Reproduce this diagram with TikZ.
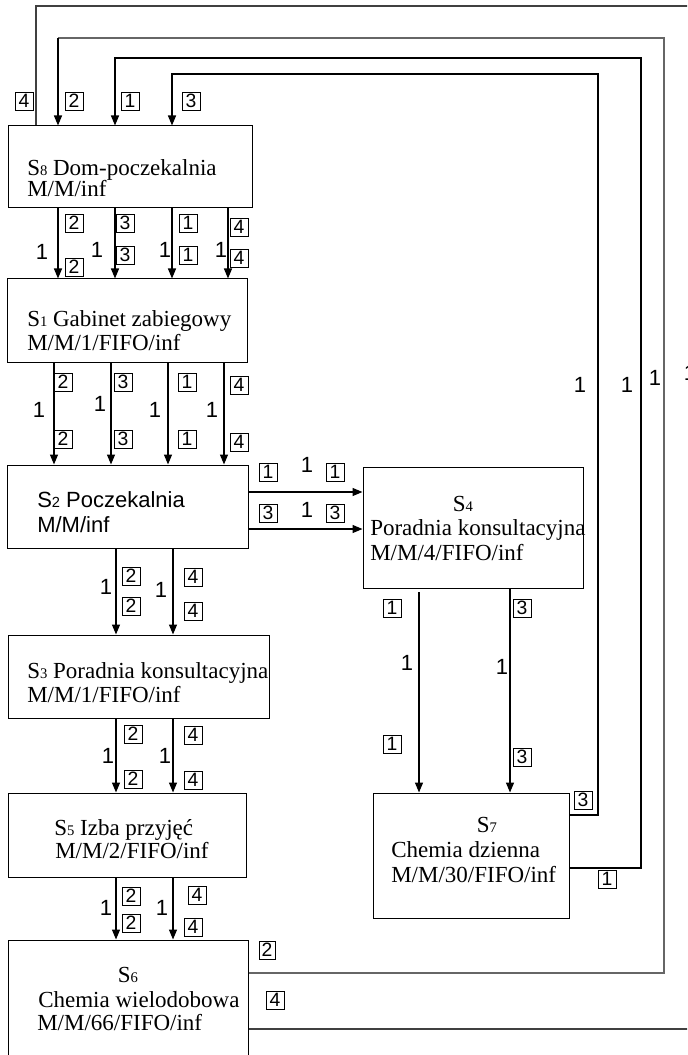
\documentclass[tikz,border=0pt]{standalone}
\usepackage{fontspec}
\setmainfont{Liberation Serif}
\newfontfamily\arialf{Liberation Sans}
\usetikzlibrary{arrows.meta,fit}
\newcommand\subd[1]{{\fontsize{11}{11}\selectfont #1}}
\begin{document}
\begin{tikzpicture}[x=0.75pt,y=-0.75pt,
  box/.style={draw, line width=0.75pt, inner sep=0pt},
  txt/.style={anchor=base west, inner sep=0pt, font=\fontsize{17.25}{17.25}\selectfont},
  stxt/.style={anchor=base west, inner sep=0pt, font=\arialf\fontsize{16.5}{16.5}\selectfont},
  tag/.style={draw, line width=0.6pt, inner sep=0pt, minimum width=13.5pt, minimum height=13.5pt, font=\arialf\fontsize{14.5}{14.5}\selectfont},
  one/.style={inner sep=0pt, font=\arialf\fontsize{16.5}{16.5}\selectfont},
  ln/.style={line width=1pt},
  arr/.style={line width=1pt, -{Triangle[length=7.5pt,width=6pt]}}
]
\useasboundingbox (0,0) rectangle (687,1055);
\clip (0,0) rectangle (687,1055);

% boxes
\node[box, fit={(8,126) (252,208)}] (S8) {};
\node[box, fit={(7,279) (247,362)}] (S1) {};
\node[box, fit={(7,465) (248,548)}] (S2) {};
\node[box, fit={(8,635) (269,718)}] (S3) {};
\node[box, fit={(8,793) (246,877)}] (S5) {};
\node[box, fit={(8,940) (248,1075)}] (S6) {};
\node[box, fit={(363,467) (583,588)}] (S4) {};
\node[box, fit={(373,793) (569,918)}] (S7) {};

% box texts
\node[txt] (t8a) at (27,176) {S\subd{8} Dom-poczekalnia};
\node[txt] (t8b) at (27,197) {M/M/inf};
\node[txt] (t1a) at (27,326) {S\subd{1} Gabinet zabiegowy};
\node[txt] (t1b) at (27,350) {M/M/1/FIFO/inf};
\node[stxt] (t2a) at (37,507) {S\subd{2} Poczekalnia};
\node[stxt] (t2b) at (37,532) {M/M/inf};
\node[txt] (t3a) at (27,678) {S\subd{3} Poradnia konsultacyjna};
\node[txt] (t3b) at (27,702) {M/M/1/FIFO/inf};
\node[txt, anchor=base] (t4a) at (463,511) {S\subd{4}};
\node[txt] (t4b) at (370,535) {Poradnia konsultacyjna};
\node[txt] (t4c) at (370,560) {M/M/4/FIFO/inf};
\node[txt] (t5a) at (54,835) {S\subd{5} Izba przyjęć};
\node[txt] (t5b) at (55,858) {M/M/2/FIFO/inf};
\node[txt, anchor=base] (t6a) at (128,982) {S\subd{6}};
\node[txt] (t6b) at (38,1007) {Chemia wielodobowa};
\node[txt] (t6c) at (37,1030) {M/M/66/FIFO/inf};
\node[txt, anchor=base] (t7a) at (487,832) {S\subd{7}};
\node[txt] (t7b) at (391,857) {Chemia dzienna};
\node[txt] (t7c) at (391,882) {M/M/30/FIFO/inf};

% S8 -> S1
\foreach \x in {58,115,172,228} \draw[arr] (S8.south -| \x,0) -- (S1.north -| \x,0);
% S1 -> S2
\foreach \x in {54,111,168,224} \draw[arr] (S1.south -| \x,0) -- (S2.north -| \x,0);
% S2 -> S3 -> S5 -> S6
\foreach \x in {116,173} {
  \draw[arr] (S2.south -| \x,0) -- (S3.north -| \x,0);
  \draw[arr] (S3.south -| \x,0) -- (S5.north -| \x,0);
  \draw[arr] (S5.south -| \x,0) -- (S6.north -| \x,0);
}
% S2 -> S4
\foreach \y in {492,529} \draw[arr] (S2.east |- 0,\y) -- (S4.west |- 0,\y);
% S4 -> S7
\coordinate (s4gap) at (419,592);
\draw[arr] (s4gap) -- (S7.north -| 419,0);
\draw[arr] (S4.south -| 510,0) -- (S7.north -| 510,0);

% return lines
\coordinate (r4a) at (700,1029);
\coordinate (r4b) at (700,6);
\draw[ln, draw=black!75] (S6.east |- 0,1029) -- (r4a) -- (r4b) -- (36,6) -- (S8.north -| 36,0);
\draw[ln, draw=black!60] (S6.east |- 0,973) -- (664,973) -- (664,38) -- (58,38);
\draw[arr] (58,38) -- (S8.north -| 58,0);
\draw[arr] (S7.east |- 0,868) -- (641,868) -- (641,58) -- (115,58) -- (S8.north -| 115,0);
\draw[arr] (S7.east |- 0,815) -- (598,815) -- (598,74) -- (172,74) -- (S8.north -| 172,0);

% tags above S8
\node[tag] (a4) at (24,101) {4};
\node[tag] (a2) at (74,101) {2};
\node[tag] (a1) at (130,101) {1};
\node[tag] (a3) at (191,101) {3};
% S8 -> S1 tags
\node[tag] (b2) at (74,223) {2};
\node[tag] (b3) at (125,223) {3};
\node[tag] (b1) at (188,223) {1};
\node[tag] (b4) at (239,227) {4};
\node[tag] (c2) at (74,267) {2};
\node[tag] (c3) at (125,255) {3};
\node[tag] (c1) at (188,255) {1};
\node[tag] (c4) at (239,258) {4};
\node[one] (o1) at (42,252) {1};
\node[one] (o2) at (97,250) {1};
\node[one] (o3) at (165,250) {1};
\node[one] (o4) at (221,250) {1};
% S1 -> S2 tags
\node[tag] (d2) at (63,382) {2};
\node[tag] (d3) at (123,382) {3};
\node[tag] (d1) at (187,382) {1};
\node[tag] (d4) at (239,385) {4};
\node[tag] (e2) at (63,439) {2};
\node[tag] (e3) at (123,439) {3};
\node[tag] (e1) at (187,439) {1};
\node[tag] (e4) at (239,442) {4};
\node[one] (p1) at (39,410) {1};
\node[one] (p2) at (100,404) {1};
\node[one] (p3) at (155,410) {1};
\node[one] (p4) at (212,410) {1};
% S2 -> S4 tags
\node[tag] (f1) at (268,472) {1};
\node[tag] (g1) at (335,472) {1};
\node[tag] (f3) at (268,513) {3};
\node[tag] (g3) at (335,513) {3};
\node[one] (q1) at (307,465) {1};
\node[one] (q2) at (307,510) {1};
% S2 -> S3 tags
\node[tag] (h2) at (131,576) {2};
\node[tag] (i2) at (131,606) {2};
\node[tag] (h4) at (193,577) {4};
\node[tag] (i4) at (193,611) {4};
\node[one] (r1) at (106,587) {1};
\node[one] (r2) at (161,590) {1};
% S3 -> S5 tags
\node[tag] (j2) at (133,734) {2};
\node[tag] (k2) at (133,779) {2};
\node[tag] (j4) at (193,735) {4};
\node[tag] (k4) at (193,780) {4};
\node[one] (s1) at (108,756) {1};
\node[one] (s2) at (165,756) {1};
% S5 -> S6 tags
\node[tag] (l2) at (131,896) {2};
\node[tag] (m2) at (131,923) {2};
\node[tag] (l4) at (197,895) {4};
\node[tag] (m4) at (193,927) {4};
\node[one] (u1) at (106,908) {1};
\node[one] (u2) at (162,908) {1};
% S6 right tags
\node[tag, minimum width=12pt] (n2) at (267,950) {2};
\node[tag] (n4) at (275,1000) {4};
% S4 -> S7 tags
\node[tag] (v1) at (392,608) {1};
\node[tag] (v3) at (522,608) {3};
\node[tag] (w1) at (392,744) {1};
\node[tag] (w3) at (522,757) {3};
\node[one] (x1) at (407,663) {1};
\node[one] (x2) at (502,667) {1};
% S7 right tags
\node[tag] (y3) at (583,800) {3};
\node[tag] (y1) at (607,879) {1};
% right side ones
\node[one] (z1) at (580,385) {1};
\node[one] (z2) at (627,385) {1};
\node[one] (z3) at (655,378) {1};
\node[one] (z4) at (690,373) {1};
\end{tikzpicture}
\end{document}
